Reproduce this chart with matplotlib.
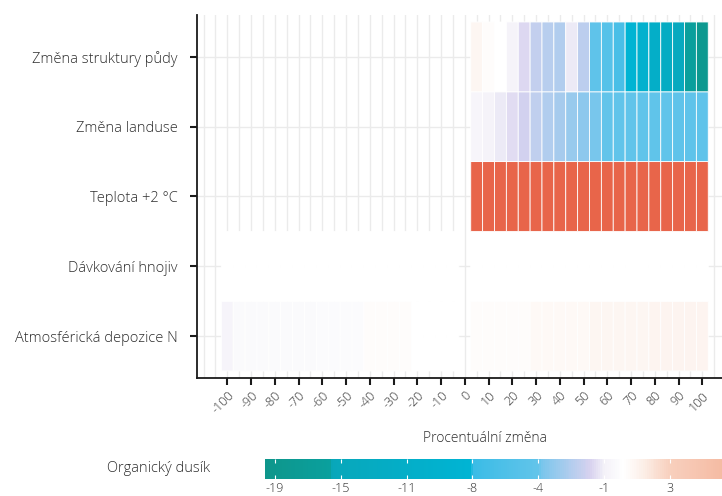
import matplotlib
matplotlib.use("Agg")
import matplotlib.pyplot as plt
import numpy as np
from matplotlib.colors import LinearSegmentedColormap, Normalize
from matplotlib.cm import ScalarMappable

plt.rcParams['font.family'] = ['Open Sans', 'DejaVu Sans']
plt.rcParams['font.weight'] = 'light'

# Row labels (bottom -> top)
rows = ["Atmosférická depozice N", "Dávkování hnojiv", "Teplota +2 °C",
        "Změna landuse", "Změna struktury půdy"]

# x categories: percent change of the driver
x_neg = [-100, -95, -90, -85, -80, -75, -70, -65, -60, -55,
         -50, -45, -40, -35, -30, -25, -20, -15, -10, -5]
x_pos = [5, 10, 15, 20, 25, 30, 35, 40, 45, 50,
         55, 60, 65, 70, 75, 80, 85, 90, 95, 100]
x_ticks = [-100, -90, -80, -70, -60, -50, -40, -30, -20, -10,
           0, 10, 20, 30, 40, 50, 60, 70, 80, 90, 100]

# Organic nitrogen response (% change)
struktura_pos = [0.8, 0.4, 0.2, -0.9, -1.5, -2.1, -2.4, -2.5, -1.2, -2.3,
                 -4.4, -5.2, -6.5, -8.3, -9.5, -11.0, -12.5, -14.0, -16.0, -18.5]
landuse_pos = [-0.6, -0.9, -1.2, -1.4, -1.8, -2.2, -2.5, -2.8, -3.1, -3.4,
               -3.8, -4.0, -4.1, -4.1, -4.2, -4.2, -4.2, -4.3, -4.3, -4.3]
teplota_pos = [12.0, 12.0, 12.0, 12.0, 12.0, 12.0, 12.0, 12.0, 12.0, 12.0,
               12.0, 12.0, 12.0, 12.0, 12.0, 12.0, 12.0, 12.0, 12.0, 12.0]
hnojiva_neg = [0.2, 0.2, 0.2, 0.2, 0.2, 0.2, 0.2, 0.2, 0.2, 0.2,
               0.2, 0.2, 0.2, 0.2, 0.2, 0.2, 0.2, 0.2, 0.2, 0.2]
hnojiva_pos = [0.2, 0.2, 0.2, 0.2, 0.2, 0.2, 0.2, 0.2, 0.2, 0.2,
               0.2, 0.2, 0.2, 0.2, 0.2, 0.2, 0.2, 0.2, 0.2, 0.2]
depozice_neg = [-0.7, -0.3, -0.3, -0.3, -0.3, -0.3, -0.3, -0.3, -0.2, -0.2,
                -0.2, -0.2, 0.4, 0.4, 0.4, 0.4, 0.2, 0.2, 0.2, 0.2]
depozice_pos = [0.4, 0.4, 0.4, 0.4, 0.4, 0.6, 0.6, 0.6, 0.6, 0.6,
                0.8, 0.8, 0.8, 0.8, 0.8, 1.0, 1.0, 1.0, 1.0, 1.0]

# colorbar breaks (equally spaced on the bar)
cbar_vals = [-19, -15, -11, -8, -4, -1, 3]
cbar_idx = np.arange(len(cbar_vals), dtype=float)


def to_pos(v):
    v = np.asarray(v, float)
    p = np.interp(v, cbar_vals, cbar_idx)
    p = np.where(v > cbar_vals[-1], cbar_idx[-1] + (v - cbar_vals[-1]) / 4, p)
    p = np.where(v < cbar_vals[0], cbar_idx[0] - (cbar_vals[0] - v) / 4, p)
    return p


pmin, pmax = -0.15, 7.2
stops = [(-0.15, '#0e968b'), (0.85, '#0aa09e'), (0.86, '#08a7ba'),
         (2.98, '#00b4d4'), (3.0, '#3abce6'), (4.0, '#62c4ea'),
         (4.07, '#7cc6ec'), (4.8, '#d8d2ef'), (5.0, '#f3f1f8'),
         (5.3, '#ffffff'), (5.6, '#fcefe8'), (6.0, '#f8d0be'),
         (6.8, '#f5bba3'), (7.2, '#f3b197')]
cmap = LinearSegmentedColormap.from_list(
    'orgN', [((p - pmin) / (pmax - pmin), c) for p, c in stops])
cmap.set_over('#e8654a')
norm = Normalize(pmin, pmax)

# assemble grid (x from -100 to 100 step 5, x=0 empty)
x_all = x_neg + [0] + x_pos
grid = np.full((len(rows), len(x_all)), np.nan)
n = len(x_neg)
grid[0, :n] = to_pos(depozice_neg)
grid[0, n + 1:] = to_pos(depozice_pos)
grid[1, :n] = to_pos(hnojiva_neg)
grid[1, n + 1:] = to_pos(hnojiva_pos)
grid[2, n + 1:] = to_pos(teplota_pos)
grid[3, n + 1:] = to_pos(landuse_pos)
grid[4, n + 1:] = to_pos(struktura_pos)

xe = np.append(np.array(x_all) - 2.5, x_all[-1] + 2.5)
ye = np.arange(len(rows) + 1) + 0.5

fig = plt.figure(figsize=(7.22, 4.96), dpi=100)
W, H = 722, 496
ax = fig.add_axes([197 / W, (H - 378) / H, 535.6 / W, 363 / H])

ax.pcolor(xe, ye, np.ma.masked_invalid(grid), cmap=cmap, norm=norm,
          edgecolors='white', linewidth=0.6)

ax.set_xlim(-112.75, 112.75)
ax.set_ylim(0.4, 5.6)
ax.set_xticks(x_ticks)
ax.set_xticklabels([str(t) for t in x_ticks], rotation=45, ha='right',
                   va='top', rotation_mode='anchor')
ax.set_xticks(np.arange(-110, 111, 5), minor=True)
ax.set_yticks(np.arange(1, len(rows) + 1))
ax.set_yticklabels(rows)
ax.set_axisbelow(True)
ax.grid(which='both', axis='x', color='#ebebeb', linewidth=1.0)
ax.grid(which='major', axis='y', color='#ebebeb', linewidth=1.0)

txt = '#2e2e2e'
for s in ['top', 'right']:
    ax.spines[s].set_visible(False)
for s in ['left', 'bottom']:
    ax.spines[s].set_linewidth(1.3)
    ax.spines[s].set_color('#1a1a1a')
ax.tick_params(axis='both', which='major', direction='out', length=5,
               width=1.5, color='#1a1a1a', labelcolor=txt)
ax.tick_params(axis='y', labelsize=10.5, pad=9)
ax.tick_params(axis='x', labelsize=9, pad=3)
ax.tick_params(which='minor', length=0)

# colour bar
cax = fig.add_axes([265 / W, (H - 479) / H, 484 / W, 20 / H])
sm = ScalarMappable(norm=norm, cmap=cmap)
cb = fig.colorbar(sm, cax=cax, orientation='horizontal', ticks=cbar_idx)
cb.set_ticklabels([str(v) for v in cbar_vals])
cb.outline.set_visible(False)
cax.xaxis.set_ticks_position('both')
cax.tick_params(axis='x', direction='in', color='white', length=3,
                width=0.8, labelcolor=txt, labelsize=9, pad=2)

fig.text(485 / W, 1 - 439 / H, "Procentuální změna", ha='center', va='center',
         fontsize=10, color=txt)
fig.text(210 / W, 1 - 468 / H, "Organický dusík", ha='right', va='center',
         fontsize=10.5, color=txt)

fig.savefig("out.png", dpi=100)
